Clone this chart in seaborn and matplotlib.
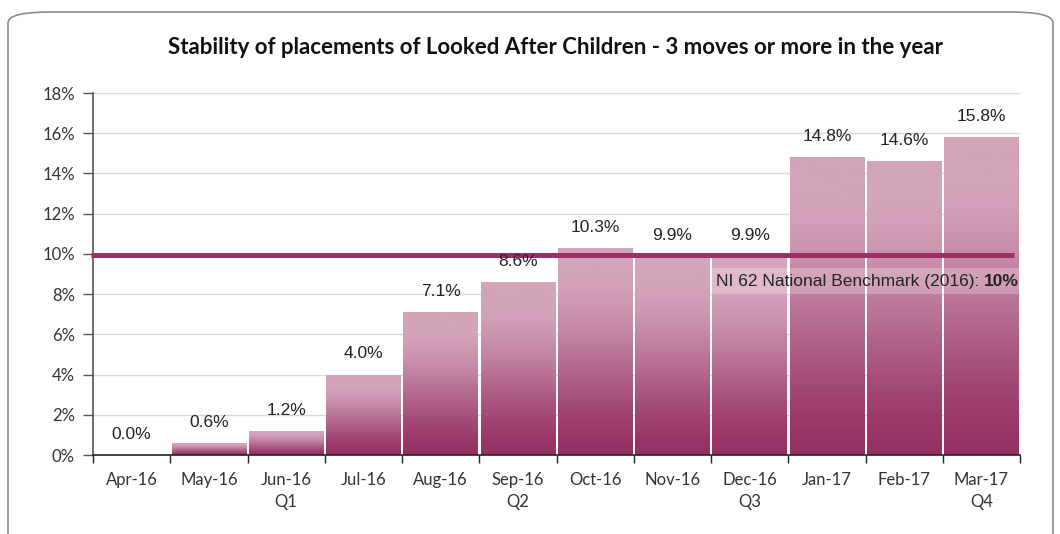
import numpy as np
import pandas as pd
import matplotlib
matplotlib.use("Agg")
import matplotlib.pyplot as plt
import seaborn as sns
from matplotlib.colors import LinearSegmentedColormap
from matplotlib.patches import FancyBboxPatch
from matplotlib.offsetbox import TextArea, HPacker, AnnotationBbox
from matplotlib.ticker import FixedLocator, PercentFormatter

months = ["Apr-16", "May-16", "Jun-16", "Jul-16", "Aug-16", "Sep-16",
          "Oct-16", "Nov-16", "Dec-16", "Jan-17", "Feb-17", "Mar-17"]
quarters = ["", "", "Q1", "", "", "Q2", "", "", "Q3", "", "", "Q4"]
values = [0.0, 0.6, 1.2, 4.0, 7.1, 8.6, 10.3, 9.9, 9.9, 14.8, 14.6, 15.8]
benchmark = 10.0
title = "Stability of placements of Looked After Children - 3 moves or more in the year"
benchmark_label = "NI 62 National Benchmark (2016): "
benchmark_value_label = "10%"

LIGHT = "#d4a4bb"
DARK = "#952f63"
LINE = "#9b3064"

sns.set_theme(style="white")
plt.rcParams["font.family"] = ["Liberation Sans", "DejaVu Sans"]

fig = plt.figure(figsize=(10.6, 5.34), dpi=100)
ax = fig.add_axes([93 / 1060, 79 / 534, 927 / 1060, 362 / 534])

df = pd.DataFrame({"month": months, "value": values})
sns.barplot(data=df, x="month", y="value", ax=ax, width=0.965, color=LIGHT,
            edgecolor="none", zorder=2)

# per-bar vertical gradient (smooth)
t = np.linspace(0, 1, 512)
s = np.clip((t - 0.15) / 0.85, 0, 1)
prof = s * s * (3 - 2 * s)
prof = 0.5 * prof + 0.5 * s
cmap = LinearSegmentedColormap.from_list("g", [LIGHT, DARK])
grad = prof.reshape(-1, 1)
for p in list(ax.patches):
    x0, y0 = p.get_x(), p.get_y()
    w, h = p.get_width(), p.get_height()
    if h <= 0:
        continue
    im = ax.imshow(grad, cmap=cmap, vmin=0, vmax=1, aspect="auto",
                   extent=(x0, x0 + w, y0, y0 + h), origin="upper", zorder=2.1,
                   interpolation="bilinear")
    im.set_clip_path(p)
    p.set_facecolor("none")

ax.set_xlim(-0.5, len(months) - 0.5)
ax.set_ylim(0, 18)
ax.set_yticks(np.arange(0, 19, 2))
ax.yaxis.set_major_formatter(PercentFormatter(decimals=0))
ax.grid(axis="y", color="#d9d9d9", linewidth=1, zorder=0)
ax.set_axisbelow(True)

labels = [m if q == "" else f"{m}\n{q}" for m, q in zip(months, quarters)]
ax.set_xticks(range(len(months)))
ax.set_xticklabels(labels, fontsize=12, color="#333333", family=["Lato", "DejaVu Sans"],
                   linespacing=1.45)
ax.xaxis.set_minor_locator(FixedLocator(np.arange(-0.5, len(months), 1)))
ax.tick_params(axis="x", which="major", length=0, pad=12)
ax.tick_params(axis="x", which="minor", length=6, width=1, color="#222222", direction="out", bottom=True)
ax.tick_params(axis="y", length=7, width=1, color="#555555", direction="out", left=True,
               labelsize=12, labelcolor="#333333", pad=6)
for lab in ax.get_yticklabels():
    lab.set_family(["Lato", "DejaVu Sans"])
ax.set_xlabel("")
ax.set_ylabel("")

for sp in ["top", "right"]:
    ax.spines[sp].set_visible(False)
ax.spines["left"].set_color("#555555")
ax.spines["bottom"].set_color("#222222")
ax.spines["left"].set_linewidth(1.2)
ax.spines["bottom"].set_linewidth(1.2)

# value labels
for i, v in enumerate(values):
    ax.annotate(f"{v:.1f}%", xy=(i, v), xytext=(0, 15), textcoords="offset points",
                ha="center", va="center", fontsize=12.5, color="#222222", zorder=5)

# benchmark line
ax.plot([-0.52, len(months) - 0.58], [benchmark - 0.08, benchmark - 0.08], color=LINE,
        linewidth=3.6, zorder=4, solid_capstyle="butt", clip_on=False)

ta1 = TextArea(benchmark_label, textprops=dict(fontsize=12.5, color="#222222"))
ta2 = TextArea(benchmark_value_label, textprops=dict(fontsize=12.5, color="#222222", fontweight="bold"))
pack = HPacker(children=[ta1, ta2], align="baseline", pad=0, sep=0)
ab = AnnotationBbox(pack, (7.56, 8.65), xycoords="data", box_alignment=(0, 0.5),
                    frameon=True, pad=0.35,
                    bboxprops=dict(facecolor="white", alpha=0.25, edgecolor="none"))
ab.set_zorder(6)
ax.add_artist(ab)

fig.text(555 / 1060, 1 - 47 / 534, title, ha="center", va="center", fontsize=16,
         fontweight="bold", family=["Lato", "DejaVu Sans"], color="#111111")

border = FancyBboxPatch((8 / 1060, -0.1), 1045 / 1060, 1.1 - 12 / 534,
                        boxstyle="round,pad=0,rounding_size=0.04",
                        transform=fig.transFigure, facecolor="none",
                        edgecolor="#8c8c8c", linewidth=1.2, mutation_aspect=534 / 1060)
fig.patches.append(border)

fig.savefig("out.png", dpi=100)
